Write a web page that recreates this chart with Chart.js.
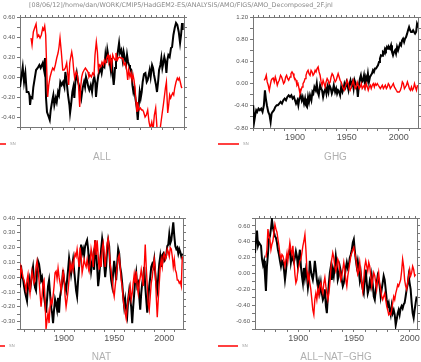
<!DOCTYPE html>
<html>
<head>
<meta charset="utf-8">
<script src="https://cdn.jsdelivr.net/npm/chart.js@4/dist/chart.umd.min.js"></script>
<style>
  html, body { margin: 0; padding: 0; background: #fff; }
  #wrap { position: relative; width: 421px; height: 362px; overflow: hidden; }
  #wrap canvas { position: absolute; left: 0; top: 0; }
</style>
</head>
<body>
<div id="wrap">
  <canvas id="pAll" width="421" height="362"></canvas>
  <canvas id="pGhg" width="421" height="362"></canvas>
  <canvas id="pNat" width="421" height="362"></canvas>
  <canvas id="pRes" width="421" height="362"></canvas>
</div>
<script>
// ---- data ----
var headerText = "[08/06/12]/home/dan/WORK/CMIP5/HadGEM2-ES/ANALYSIS/AMO/FIGS/AMO_Decomposed_2F.jnl";
var legendLabel = "SN";

// ALL
var allBlackYears = [
  1858.2,1860.7,1861.9,1863.1,1864.3,1865.9,1866.8,1867.4,1868.3,1869.5,
  1870.4,1872.9,1874.4,1875.9,1877.1,1879.0,1880.2,1881.1,1882.0,1882.9,
  1884.5,1885.4,1886.3,1887.8,1888.7,1889.6,1890.9,1891.8,1893.0,1893.9,
  1895.1,1896.3,1897.6,1898.8,1899.7,1900.9,1902.1,1903.4,1904.0,1904.9,
  1906.1,1907.0,1907.9,1908.8,1910.1,1911.3,1912.5,1913.4,1914.3,1915.5,
  1916.8,1917.7,1918.6,1919.8,1920.7,1921.6,1922.9,1924.1,1925.3,1926.2,
  1927.1,1927.7,1929.0,1929.9,1930.8,1932.0,1932.9,1934.1,1935.4,1936.3,
  1937.2,1938.1,1939.3,1940.2,1941.2,1942.1,1943.0,1943.9,1944.5,1945.1,
  1946.0,1947.3,1948.8,1949.7,1950.9,1952.1,1953.0,1954.0,1955.2,1956.1,
  1957.0,1957.9,1958.8,1960.1,1961.0,1961.9,1962.8,1963.7,1964.9,1965.9,
  1966.8,1967.7,1968.6,1969.5,1970.4,1971.6,1972.9,1974.1,1975.0,1975.9,
  1976.8,1977.7,1979.0,1979.9,1980.8,1981.7,1982.6,1983.5,1984.5,1985.4,
  1986.6,1987.5,1988.4,1989.3,1990.2,1991.2,1992.1,1993.0,1993.9,1995.1,
  1996.3,1997.3,1998.5,1999.7,2000.9,2002.1,2003.4,2004.6,2005.5,2006.4,
  2007.0];
var allBlack = [
  -0.10,0.10,-0.05,0.04,-0.15,-0.15,-0.18,-0.28,-0.20,-0.21,
  -0.10,0.07,0.09,0.12,0.09,0.14,0.07,0.19,-0.21,-0.35,
  -0.40,-0.43,-0.33,-0.23,-0.18,-0.28,-0.21,-0.25,-0.15,-0.18,
  -0.05,-0.08,-0.05,-0.10,0.05,-0.05,-0.18,-0.28,-0.36,-0.28,
  -0.15,-0.10,-0.21,-0.05,0.04,-0.05,-0.10,-0.15,-0.21,-0.11,
  -0.05,-0.10,0.00,-0.05,-0.10,-0.13,-0.08,-0.15,-0.03,0.00,
  -0.06,-0.20,-0.05,0.02,0.05,0.09,0.04,0.12,0.10,0.22,
  0.14,0.27,0.19,0.15,0.07,0.19,0.02,-0.08,-0.01,0.09,
  0.15,0.22,0.34,0.24,0.27,0.17,0.25,0.19,0.12,0.22,
  0.15,0.12,0.09,0.07,-0.08,-0.15,-0.11,-0.21,-0.30,-0.43,
  -0.28,-0.15,-0.21,-0.15,-0.05,0.03,0.04,-0.05,-0.03,0.02,
  0.07,0.00,0.12,0.09,0.02,-0.03,-0.08,-0.15,-0.05,0.07,
  0.12,0.19,0.09,0.14,0.20,0.15,0.04,0.17,0.22,0.20,
  0.29,0.30,0.42,0.49,0.54,0.52,0.45,0.34,0.42,0.54,
  0.47];
var allRedYears = [
  1868.3,1869.2,1870.4,1871.6,1872.9,1874.1,1875.3,1876.5,1877.7,1879.0,
  1879.9,1880.8,1881.7,1882.6,1883.5,1884.5,1885.7,1886.9,1888.1,1889.3,
  1890.5,1891.8,1893.0,1893.9,1894.8,1896.0,1897.3,1898.5,1899.7,1900.9,
  1901.8,1902.7,1903.7,1904.6,1905.5,1906.4,1907.3,1908.2,1909.5,1910.7,
  1911.6,1912.8,1913.7,1914.6,1915.5,1916.8,1918.0,1919.2,1920.4,1921.3,
  1922.3,1923.5,1924.7,1925.9,1926.8,1928.0,1929.0,1929.9,1930.8,1932.0,
  1933.2,1934.5,1935.4,1936.6,1937.5,1938.7,1939.6,1940.9,1941.8,1943.0,
  1943.9,1945.1,1946.0,1947.3,1948.2,1949.4,1950.3,1951.5,1952.4,1953.4,
  1954.6,1955.8,1956.7,1957.6,1958.8,1959.8,1960.7,1961.6,1962.5,1963.4,
  1964.3,1965.2,1966.2,1967.1,1968.3,1969.5,1970.4,1971.3,1972.6,1973.8,
  1975.0,1976.2,1977.4,1978.7,1979.9,1981.1,1982.3,1983.5,1984.8,1986.0,
  1987.2,1988.4,1989.3,1990.2,1991.2,1992.1,1993.3,1994.2,1995.1,1996.0,
  1997.0,1997.9,1998.8,1999.7,2000.9,2002.1,2003.0,2003.9,2004.8,2005.8,
  2006.4];
var allRed = [
  0.39,0.32,0.45,0.49,0.53,0.40,0.42,0.39,0.42,0.49,
  0.47,0.51,0.42,0.09,-0.20,-0.08,0.00,0.05,0.09,0.07,
  0.12,0.19,0.24,0.30,0.39,0.25,0.07,0.07,0.09,0.14,
  0.04,-0.08,0.14,0.20,0.25,0.19,0.07,-0.01,0.05,0.02,
  -0.06,-0.30,-0.10,0.00,0.04,0.07,0.09,0.07,0.05,0.00,
  0.02,0.00,0.04,0.02,0.22,0.35,0.25,0.07,0.12,0.10,
  0.15,0.12,0.17,0.14,0.19,0.22,0.15,0.20,0.10,0.22,
  0.19,0.17,0.24,0.17,0.19,0.20,0.19,0.19,0.17,0.12,
  0.14,0.07,-0.03,0.07,0.00,0.04,-0.03,0.02,-0.03,-0.11,
  -0.25,-0.35,-0.28,-0.33,-0.31,-0.33,-0.33,-0.35,-0.40,-0.38,
  -0.33,-0.45,-0.51,-0.45,-0.53,-0.38,-0.31,-0.51,-0.55,-0.55,
  -0.45,-0.35,-0.28,-0.20,-0.11,-0.05,-0.36,-0.28,-0.18,-0.21,
  -0.18,-0.16,-0.18,-0.11,-0.05,-0.01,-0.03,-0.01,-0.05,-0.10,
  -0.11];

// GHG
var ghgBlackYears = [
  1859.7,1860.6,1861.6,1862.6,1863.5,1864.8,1866.1,1867.4,1868.7,1870.0,
  1871.0,1871.9,1872.9,1874.2,1875.5,1876.5,1877.4,1878.4,1879.7,1881.0,
  1882.3,1883.5,1884.8,1886.1,1887.4,1888.7,1890.0,1891.3,1892.6,1893.9,
  1895.2,1896.5,1897.7,1899.0,1900.0,1901.0,1902.3,1903.2,1904.2,1905.5,
  1906.5,1907.4,1908.7,1909.7,1910.6,1911.6,1912.6,1913.5,1914.5,1915.8,
  1916.8,1917.7,1918.7,1920.0,1921.0,1921.9,1922.9,1924.2,1925.2,1926.1,
  1927.1,1928.1,1929.4,1930.3,1931.3,1932.3,1933.2,1934.5,1935.5,1936.5,
  1937.4,1938.7,1939.7,1940.6,1941.6,1942.6,1943.5,1944.5,1945.8,1946.8,
  1947.7,1948.7,1949.7,1950.6,1951.6,1952.6,1953.5,1954.5,1955.5,1956.5,
  1957.4,1958.4,1959.7,1960.6,1961.6,1962.6,1963.5,1964.5,1965.5,1966.5,
  1967.4,1968.4,1969.4,1970.3,1971.3,1972.3,1973.2,1974.2,1975.2,1976.1,
  1977.1,1978.1,1979.0,1980.0,1981.0,1981.9,1982.9,1983.9,1984.8,1985.8,
  1986.8,1987.7,1988.7,1989.7,1990.6,1991.6,1992.6,1993.5,1994.5,1995.5,
  1996.5,1997.4,1998.4,1999.4,2000.3,2001.3,2002.3,2003.2,2004.2,2005.2,
  2006.1,2007.1,2008.1,2009.0,2010.0,2011.0,2011.9,2012.9,2013.9,2014.8,
  2015.8,2016.8,2017.7,2018.4];
var ghgBlack = [
  -0.39,-0.69,-0.57,-0.48,-0.51,-0.45,-0.48,-0.45,-0.51,-0.39,
  -0.12,-0.27,-0.39,-0.51,-0.57,-0.69,-0.54,-0.51,-0.48,-0.42,
  -0.39,-0.39,-0.36,-0.33,-0.36,-0.30,-0.27,-0.30,-0.24,-0.21,
  -0.24,-0.21,-0.27,-0.24,-0.30,-0.36,-0.30,-0.39,-0.27,-0.21,
  -0.30,-0.24,-0.36,-0.27,-0.39,-0.42,-0.24,-0.33,-0.21,-0.30,
  -0.15,-0.18,-0.06,-0.12,0.00,-0.15,-0.21,-0.03,-0.09,-0.12,
  -0.24,-0.15,-0.09,-0.18,-0.06,-0.15,-0.03,-0.09,-0.18,-0.12,
  -0.03,-0.15,-0.09,-0.18,-0.12,-0.15,-0.21,-0.06,-0.15,-0.09,
  0.00,-0.06,0.03,-0.03,-0.12,0.00,0.06,-0.03,0.03,-0.09,
  0.06,0.00,-0.06,-0.24,-0.03,0.09,0.15,0.03,0.06,0.15,
  0.00,0.12,0.06,0.18,0.03,0.12,0.15,0.18,0.24,0.21,
  0.27,0.27,0.30,0.33,0.39,0.45,0.51,0.50,0.57,0.55,
  0.63,0.60,0.66,0.63,0.66,0.63,0.69,0.57,0.51,0.57,
  0.60,0.54,0.66,0.60,0.66,0.72,0.69,0.78,0.81,0.75,
  0.81,0.84,0.90,0.96,1.02,0.96,0.93,0.93,0.96,0.93,
  0.90,0.93,1.08,1.05];
var ghgRedYears = [
  1870.3,1871.3,1872.3,1873.2,1874.2,1875.2,1876.1,1877.1,1878.1,1879.0,
  1880.0,1881.0,1881.9,1882.9,1883.9,1884.8,1886.1,1887.1,1888.1,1889.0,
  1890.0,1891.0,1891.9,1892.9,1893.9,1895.2,1896.1,1897.1,1898.1,1899.0,
  1900.0,1901.0,1901.9,1902.9,1903.9,1904.8,1905.8,1906.8,1907.7,1908.7,
  1909.7,1910.6,1911.6,1912.6,1913.5,1914.5,1915.5,1916.5,1917.4,1918.4,
  1919.4,1920.3,1921.3,1922.3,1923.2,1924.2,1925.2,1926.1,1927.1,1928.1,
  1929.0,1930.0,1931.0,1931.9,1932.9,1933.9,1934.8,1935.8,1936.8,1937.7,
  1938.7,1939.7,1940.6,1941.6,1942.6,1943.5,1944.5,1945.5,1946.5,1947.4,
  1948.4,1949.4,1950.3,1951.3,1952.3,1953.2,1954.2,1955.2,1956.1,1957.1,
  1958.1,1959.0,1960.0,1961.0,1961.9,1962.9,1963.9,1964.8,1965.8,1966.8,
  1967.7,1968.7,1969.7,1970.6,1971.6,1972.6,1973.5,1974.5,1975.5,1976.5,
  1977.4,1978.4,1979.4,1980.3,1981.3,1982.3,1983.2,1984.2,1985.2,1986.1,
  1987.1,1988.1,1989.0,1990.0,1991.0,1991.9,1992.9,1993.9,1994.8,1995.8,
  1996.8,1997.7,1998.7,1999.7,2000.6,2001.6,2002.6,2003.5,2004.5,2005.5,
  2006.5,2007.4,2008.4,2009.4,2010.3,2011.3,2012.3,2013.2,2014.2,2015.2,
  2016.1,2017.1,2018.1];
var ghgRed = [
  0.06,0.09,0.15,0.03,-0.03,-0.12,-0.03,0.06,0.09,0.10,
  0.03,0.12,0.06,-0.03,0.03,0.06,0.15,0.12,0.06,0.00,
  0.03,0.12,0.15,0.09,0.06,0.12,0.18,0.21,0.18,0.12,
  0.09,0.06,-0.03,0.00,-0.09,-0.18,-0.12,-0.06,0.00,0.03,
  0.09,0.15,0.21,0.24,0.18,0.15,0.24,0.21,0.15,0.18,
  0.24,0.21,0.27,0.30,0.21,0.15,0.03,-0.03,0.06,0.00,
  -0.06,0.03,0.09,0.06,0.00,0.03,0.12,0.18,0.15,0.09,
  0.03,0.06,0.12,0.18,0.12,0.06,0.03,-0.03,-0.09,-0.12,
  -0.06,0.00,0.06,0.00,-0.09,-0.12,-0.06,0.00,0.06,-0.03,
  -0.09,-0.06,0.03,-0.03,-0.09,-0.06,0.00,-0.09,-0.06,-0.03,
  -0.09,0.00,-0.06,-0.12,-0.06,-0.03,-0.09,-0.03,0.00,-0.06,
  0.00,-0.03,0.00,-0.03,-0.06,-0.09,-0.06,-0.03,-0.09,-0.06,
  -0.03,-0.09,-0.06,0.00,-0.03,-0.09,-0.06,-0.03,0.00,-0.06,
  -0.09,-0.12,-0.15,-0.15,-0.15,-0.12,-0.06,0.03,0.00,-0.09,
  -0.06,-0.03,0.03,-0.03,-0.09,-0.12,-0.06,-0.12,-0.09,0.00,
  -0.06,-0.12,-0.03];

// NAT
var natYears = [
  1856,1857,1858,1859,1860,1861,1862,1863,1864,1865,
  1866,1867,1868,1869,1870,1871,1872,1873,1874,1875,
  1876,1877,1878,1879,1880,1881,1882,1883,1884,1885,
  1886,1887,1888,1889,1890,1891,1892,1893,1894,1895,
  1896,1897,1898,1899,1900,1901,1902,1903,1904,1905,
  1906,1907,1908,1909,1910,1911,1912,1913,1914,1915,
  1916,1917,1918,1919,1920,1921,1922,1923,1924,1925,
  1926,1927,1928,1929,1930,1931,1932,1933,1934,1935,
  1936,1937,1938,1939,1940,1941,1942,1943,1944,1945,
  1946,1947,1948,1949,1950,1951,1952,1953,1954,1955,
  1956,1957,1958,1959,1960,1961,1962,1963,1964,1965,
  1966,1967,1968,1969,1970,1971,1972,1973,1974,1975,
  1976,1977,1978,1979,1980,1981,1982,1983,1984,1985,
  1986,1987,1988,1989,1990,1991,1992,1993,1994,1995,
  1996,1997,1998,1999,2000,2001,2002,2003,2004,2005,
  2006,2007,2008,2009,2010,2011,2012,2013,2014,2015,
  2016,2017,2018];
var natBlack = [
  -0.07,0.08,0.00,-0.01,-0.06,-0.10,-0.13,-0.16,-0.04,-0.01,
  -0.10,-0.04,0.03,0.07,-0.02,-0.07,-0.09,0.04,0.11,0.09,
  0.04,-0.02,0.00,-0.05,-0.13,-0.18,-0.24,-0.15,-0.06,-0.02,
  -0.11,-0.20,-0.24,-0.31,-0.22,-0.15,-0.18,-0.22,-0.14,-0.24,
  -0.13,-0.09,-0.04,0.05,-0.02,-0.06,-0.09,-0.02,0.05,0.13,
  0.08,0.02,0.07,0.12,0.05,-0.02,-0.09,-0.13,-0.02,0.07,
  0.14,0.22,0.16,0.19,0.15,0.21,0.23,0.25,0.19,0.09,
  0.13,0.04,0.09,0.14,0.05,0.25,0.16,0.07,-0.06,0.00,
  0.09,0.19,0.26,0.21,0.09,0.00,0.07,0.19,0.25,0.21,
  0.07,-0.02,-0.06,0.03,0.11,0.05,-0.02,0.09,0.19,0.16,
  0.07,0.03,-0.04,-0.13,-0.20,-0.15,-0.22,-0.26,-0.15,-0.09,
  -0.15,-0.20,-0.31,-0.20,-0.11,-0.02,0.03,-0.06,-0.04,-0.13,
  -0.22,-0.11,-0.04,0.00,0.07,-0.06,-0.15,-0.24,-0.15,-0.06,
  0.00,0.07,0.09,0.07,0.12,0.03,-0.05,-0.09,0.00,0.09,
  0.14,0.07,0.15,0.16,0.11,0.12,0.15,0.21,0.22,0.29,
  0.23,0.25,0.31,0.37,0.28,0.21,0.19,0.20,0.16,0.19,
  0.17,0.14,0.16];
var natRed = [
  -0.01,0.07,0.04,0.00,-0.02,-0.05,-0.09,-0.02,0.02,-0.06,
  -0.11,-0.03,0.04,0.00,-0.04,-0.02,0.07,0.11,0.06,-0.02,
  -0.11,-0.20,-0.13,-0.04,-0.02,-0.15,-0.35,-0.29,-0.24,-0.31,
  -0.20,-0.15,-0.18,-0.13,-0.06,0.03,0.04,-0.01,0.06,0.00,
  -0.04,-0.09,-0.02,0.04,0.00,-0.13,-0.20,-0.15,-0.09,-0.01,
  0.09,0.05,0.09,0.05,0.12,0.16,0.14,0.19,0.13,0.07,
  0.20,0.14,0.03,0.07,0.12,0.09,0.07,0.12,0.07,0.04,
  0.09,0.19,0.15,0.07,0.19,0.25,0.15,0.25,0.15,0.05,
  0.12,0.07,0.19,0.23,0.16,0.07,0.15,0.23,0.26,0.19,
  0.09,0.04,-0.02,-0.09,-0.13,-0.06,0.00,0.07,0.13,0.15,
  0.07,-0.02,-0.06,-0.15,-0.20,-0.24,-0.28,-0.20,-0.15,-0.11,
  -0.06,-0.15,-0.11,-0.04,0.02,-0.04,0.04,-0.06,-0.11,-0.04,
  0.00,0.05,0.00,-0.06,0.06,0.22,0.07,-0.06,-0.18,-0.22,
  -0.13,-0.04,0.00,0.07,0.12,0.05,-0.13,-0.27,-0.15,-0.04,
  0.07,0.12,0.07,0.14,0.16,0.12,0.14,0.19,0.17,0.14,
  0.20,0.19,0.14,0.07,0.12,0.05,0.03,-0.02,-0.02,-0.04,
  -0.03,-0.06,0.14];

// ALL-NAT-GHG
var resBlackYears = [
  1861.2,1862.1,1863.0,1863.9,1864.8,1865.7,1866.6,1867.5,1868.4,1869.3,
  1870.1,1871.0,1871.9,1872.8,1873.7,1874.6,1875.5,1876.4,1877.3,1878.2,
  1879.1,1880.0,1880.9,1881.8,1882.7,1883.6,1884.5,1885.4,1886.3,1887.2,
  1888.1,1889.0,1889.9,1890.7,1891.6,1892.5,1893.4,1894.3,1895.2,1896.1,
  1897.0,1897.9,1898.8,1899.7,1900.6,1901.5,1902.4,1903.3,1904.2,1905.1,
  1906.0,1906.9,1907.8,1908.7,1909.6,1910.4,1911.3,1912.2,1913.1,1914.0,
  1914.9,1915.8,1916.7,1917.6,1918.5,1919.4,1920.3,1921.2,1922.1,1923.0,
  1923.9,1924.8,1925.7,1926.6,1927.5,1928.4,1929.3,1930.1,1931.0,1931.9,
  1932.8,1933.7,1934.6,1935.5,1936.4,1937.3,1938.2,1939.1,1940.0,1940.9,
  1941.8,1942.7,1943.6,1944.5,1945.4,1946.3,1947.2,1948.1,1949.0,1949.9,
  1950.7,1951.6,1952.5,1953.4,1954.3,1955.2,1956.1,1957.0,1957.9,1958.8,
  1959.7,1960.6,1961.5,1962.4,1963.3,1964.2,1965.1,1966.0,1966.9,1967.8,
  1968.7,1969.6,1970.4,1971.3,1972.2,1973.1,1974.0,1974.9,1975.8,1976.7,
  1977.6,1978.5,1979.4,1980.3,1981.2,1982.1,1983.0,1983.9,1984.8,1985.7,
  1986.6,1987.5,1988.4,1989.3,1990.1,1991.0,1991.9,1992.8,1993.7,1994.6,
  1995.5,1996.4,1997.3,1998.2,1999.1,2000.0,2000.9,2001.8,2002.7,2003.6,
  2004.5,2005.4,2006.3];
var resBlack = [
  0.26,0.41,0.54,0.35,0.39,0.37,0.35,0.18,0.11,0.16,
  -0.01,-0.22,0.09,0.24,0.43,0.47,0.56,0.68,0.58,0.52,
  0.47,0.45,0.39,0.30,0.24,0.16,0.09,0.16,0.14,0.05,
  -0.08,0.03,0.18,0.22,0.26,0.30,0.14,0.22,0.18,0.14,
  0.20,0.28,0.22,0.09,0.20,0.30,0.09,-0.03,-0.12,0.07,
  -0.05,0.05,-0.03,-0.18,-0.08,0.16,0.05,-0.03,-0.08,0.01,
  0.16,0.05,-0.08,-0.16,-0.10,-0.22,-0.12,-0.25,-0.33,-0.29,
  -0.20,-0.41,-0.50,-0.29,-0.12,0.01,0.09,-0.08,0.05,-0.03,
  0.09,0.22,0.11,-0.08,-0.03,0.09,0.03,-0.08,-0.16,-0.12,
  -0.03,0.07,0.14,0.07,0.11,0.20,0.24,0.30,0.39,0.43,
  0.30,0.18,0.09,0.16,0.05,-0.08,0.01,-0.12,-0.20,-0.25,
  -0.08,0.05,-0.12,-0.25,-0.20,-0.10,-0.16,-0.03,-0.14,-0.29,
  -0.33,-0.20,-0.12,-0.03,-0.08,-0.16,-0.29,-0.20,-0.12,-0.03,
  -0.08,-0.20,-0.33,-0.41,-0.37,-0.46,-0.52,-0.41,-0.50,-0.46,
  -0.52,-0.65,-0.58,-0.50,-0.46,-0.52,-0.44,-0.41,-0.44,-0.39,
  -0.37,-0.29,-0.20,-0.14,-0.03,-0.12,-0.20,-0.37,-0.50,-0.56,
  -0.46,-0.37,-0.29];
var resRedYears = [
  1871.0,1871.9,1872.8,1873.7,1874.6,1875.5,1876.4,1877.3,1878.2,1879.1,
  1880.0,1880.9,1881.8,1882.7,1883.6,1884.5,1885.4,1886.3,1887.2,1888.1,
  1889.0,1889.9,1890.7,1891.6,1892.5,1893.4,1894.3,1895.2,1896.1,1897.0,
  1897.9,1898.8,1899.7,1900.6,1901.5,1902.4,1903.3,1904.2,1905.1,1906.0,
  1906.9,1907.8,1908.7,1909.6,1910.4,1911.3,1912.2,1913.1,1914.0,1914.9,
  1915.8,1916.7,1917.6,1918.5,1919.4,1920.3,1921.2,1922.1,1923.0,1923.9,
  1924.8,1925.7,1926.6,1927.5,1928.4,1929.3,1930.1,1931.0,1931.9,1932.8,
  1933.7,1934.6,1935.5,1936.4,1937.3,1938.2,1939.1,1940.0,1940.9,1941.8,
  1942.7,1943.6,1944.5,1945.4,1946.3,1947.2,1948.1,1949.0,1949.9,1950.7,
  1951.6,1952.5,1953.4,1954.3,1955.2,1956.1,1957.0,1957.9,1958.8,1959.7,
  1960.6,1961.5,1962.4,1963.3,1964.2,1965.1,1966.0,1966.9,1967.8,1968.7,
  1969.6,1970.4,1971.3,1972.2,1973.1,1974.0,1974.9,1975.8,1976.7,1977.6,
  1978.5,1979.4,1980.3,1981.2,1982.1,1983.0,1983.9,1984.8,1985.7,1986.6,
  1987.5,1988.4,1989.3,1990.1,1991.0,1991.9,1992.8,1993.7,1994.6,1995.5,
  1996.4,1997.3,1998.2,1999.1,2000.0,2000.9,2001.8,2002.7,2003.6,2004.5,
  2005.4];
var resRed = [
  0.20,0.30,0.56,0.47,0.43,0.30,0.37,0.41,0.52,0.62,
  0.56,0.52,0.43,0.35,0.24,0.18,0.24,0.22,0.16,0.09,
  0.18,0.26,0.16,0.28,0.39,0.30,0.24,0.35,0.18,-0.01,
  -0.12,-0.08,0.05,0.09,0.16,0.18,0.26,0.35,0.41,0.49,
  0.30,0.05,-0.08,-0.01,-0.12,-0.20,-0.33,-0.46,-0.52,-0.33,
  -0.25,-0.33,-0.20,-0.27,-0.16,-0.12,-0.20,-0.25,-0.12,-0.05,
  -0.16,-0.25,-0.33,-0.25,-0.12,0.05,0.18,0.26,0.20,0.09,
  0.03,0.09,0.18,0.14,0.03,-0.08,-0.03,0.05,0.14,0.05,
  -0.08,-0.16,-0.03,0.05,0.14,0.22,0.26,0.30,0.33,0.26,
  0.20,0.09,-0.01,0.03,0.14,0.01,-0.12,-0.22,-0.08,0.09,
  0.16,0.09,0.03,0.14,0.09,-0.03,-0.16,-0.08,0.01,-0.03,
  -0.12,-0.20,-0.08,0.01,-0.12,-0.20,-0.29,-0.33,-0.29,-0.25,
  -0.33,-0.41,-0.46,-0.52,-0.50,-0.52,-0.46,-0.37,-0.29,-0.33,
  -0.25,-0.20,-0.14,-0.16,-0.12,-0.08,0.03,0.18,0.09,-0.08,
  -0.16,-0.20,-0.12,-0.03,0.05,-0.03,0.01,0.09,0.05,-0.03,
  -0.01];

// ---- drawing ----
Chart.defaults.font.family = "'Liberation Sans', Arial, sans-serif";
var PAGE_W = 421, PAGE_H = 362;
var AX = "#777", LBL = "#555";

function pts(xs, ys) {
  return xs.map(function (x, i) { return { x: x, y: ys[i] }; });
}

// title, legend and (optionally) page header drawn on top of each panel
var panelText = {
  id: "panelText",
  afterDraw: function (chart, args, o) {
    var ctx = chart.ctx;
    ctx.save();
    if (o.header) {
      ctx.fillStyle = "#8a8a8a";
      ctx.font = "6.4px 'DejaVu Sans', sans-serif";
      ctx.textAlign = "center";
      ctx.textBaseline = "middle";
      ctx.fillText(headerText, 181, 5);
    }
    ctx.strokeStyle = "#ff0000";
    ctx.lineWidth = 1.5;
    ctx.beginPath();
    ctx.moveTo(o.legX1, o.legY);
    ctx.lineTo(o.legX2, o.legY);
    ctx.stroke();
    ctx.fillStyle = "#999";
    ctx.font = "4px 'Liberation Sans', sans-serif";
    ctx.textAlign = "left";
    ctx.textBaseline = "middle";
    ctx.fillText(legendLabel, o.legX2 + 4, o.legY);
    ctx.fillStyle = "#b0b0b0";
    ctx.font = "10px 'Liberation Sans', sans-serif";
    ctx.textAlign = "center";
    ctx.fillText(o.title, (chart.chartArea.left + chart.chartArea.right) / 2, o.titleY);
    ctx.restore();
  }
};

function makePanel(id, p) {
  var yLabel = function (v) {
    var n = Math.round(v / p.yStep);
    return n % 2 === 0 ? v.toFixed(2) : "";
  };
  var blank = function () { return ""; };
  var grid = { drawOnChartArea: false, tickLength: 3, color: AX, lineWidth: 1 };
  var border = { color: AX, width: 1 };

  new Chart(document.getElementById(id).getContext("2d"), {
    type: "line",
    data: {
      datasets: [
        { data: pts(p.redYears, p.red), borderColor: "#ff0000", borderWidth: 1.4,
          pointRadius: 0, fill: false, tension: 0 },
        { data: pts(p.blackYears, p.black), borderColor: "#000000", borderWidth: 2,
          pointRadius: 0, fill: false, tension: 0 }
      ]
    },
    options: {
      responsive: false,
      animation: false,
      layout: {
        padding: {
          left: p.area.l - 24,
          top: p.area.t - 4,
          right: PAGE_W - p.area.r - 4,
          bottom: PAGE_H - p.area.b - 14
        }
      },
      plugins: {
        legend: { display: false },
        tooltip: { enabled: false },
        panelText: p.text
      },
      scales: {
        x: {
          type: "linear", position: "bottom", min: p.xMin, max: p.xMax,
          afterFit: function (s) { s.height = 14; },
          ticks: { stepSize: 10, includeBounds: false, autoSkip: false, maxRotation: 0,
                   color: LBL, font: { size: 9 }, padding: 1,
                   callback: function (v) { return v % 50 === 0 ? String(v) : ""; } },
          grid: grid, border: border
        },
        xTop: {
          type: "linear", position: "top", min: p.xMin, max: p.xMax,
          afterFit: function (s) { s.height = 4; },
          ticks: { stepSize: 5, includeBounds: false, autoSkip: false, callback: blank },
          grid: { drawOnChartArea: false, tickLength: 2, color: AX }, border: border
        },
        y: {
          type: "linear", position: "left", min: p.yMin, max: p.yMax,
          afterFit: function (s) { s.width = 24; },
          ticks: { stepSize: p.yStep, includeBounds: false, autoSkip: false,
                   color: LBL, font: { size: 6 }, padding: 2, callback: yLabel },
          grid: grid, border: border
        },
        yRight: {
          type: "linear", position: "right", min: p.yMin, max: p.yMax,
          afterFit: function (s) { s.width = 4; },
          ticks: { stepSize: p.yStep, includeBounds: false, autoSkip: false, callback: blank },
          grid: grid, border: border
        }
      }
    },
    plugins: [panelText]
  });
}

makePanel("pAll", {
  area: { l: 20, t: 17, r: 184, b: 127 },
  xMin: 1858.2, xMax: 2008.2, yMin: -0.5, yMax: 0.6, yStep: 0.1,
  blackYears: allBlackYears, black: allBlack, redYears: allRedYears, red: allRed,
  text: { header: true, title: "ALL", titleY: 157, legX1: -2, legX2: 6, legY: 144 }
});
makePanel("pGhg", {
  area: { l: 253, t: 17, r: 418, b: 128 },
  xMin: 1859.5, xMax: 2018.6, yMin: -0.8, yMax: 1.2, yStep: 0.2,
  blackYears: ghgBlackYears, black: ghgBlack, redYears: ghgRedYears, red: ghgRed,
  text: { title: "GHG", titleY: 157, legX1: 218, legX2: 239, legY: 144 }
});
makePanel("pNat", {
  area: { l: 20, t: 218, r: 183, b: 329 },
  xMin: 1856, xMax: 2018.7, yMin: -0.35, yMax: 0.4, yStep: 0.05,
  blackYears: natYears, black: natBlack, redYears: natYears, red: natRed,
  text: { title: "NAT", titleY: 357, legX1: -2, legX2: 5, legY: 346 }
});
makePanel("pRes", {
  area: { l: 255, t: 218, r: 417, b: 329 },
  xMin: 1861.2, xMax: 2006.6, yMin: -0.7, yMax: 0.7, yStep: 0.1,
  blackYears: resBlackYears, black: resBlack, redYears: resRedYears, red: resRed,
  text: { title: "ALL\u2212NAT\u2212GHG", titleY: 357, legX1: 218, legX2: 238, legY: 346 }
});
</script>
</body>
</html>
